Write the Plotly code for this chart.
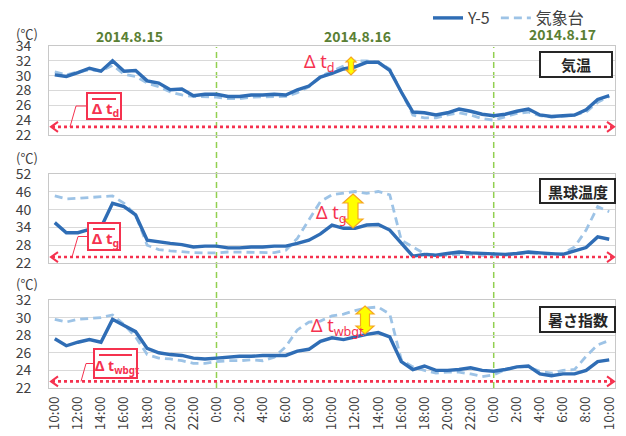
import plotly.graph_objects as go

W, H = 626, 436

# ---- data (hourly, 2014-08-15 10:00 -> 2014-08-17 10:00) ----
time_index = list(range(49))
tick_positions = list(range(0, 49, 2))
tick_labels = ["10:00", "12:00", "14:00", "16:00", "18:00", "20:00", "22:00", "0:00",
               "2:00", "4:00", "6:00", "8:00", "10:00", "12:00", "14:00", "16:00",
               "18:00", "20:00", "22:00", "0:00", "2:00", "4:00", "6:00", "8:00", "10:00"]

air_y5 = [30.1, 29.9, 30.4, 31.0, 30.6, 32.0, 30.6, 30.7, 29.3, 29.0, 28.1, 28.2, 27.3, 27.5,
          27.5, 27.2, 27.2, 27.4, 27.4, 27.5, 27.4, 28.1, 28.6, 29.8, 30.3, 30.9, 31.2, 31.8,
          31.8, 30.7, 27.8, 25.1, 25.0, 24.7, 25.0, 25.5, 25.2, 24.8, 24.6, 24.8, 25.2, 25.5,
          24.7, 24.5, 24.6, 24.7, 25.4, 26.8, 27.3]
air_jma = [30.5, 30.1, 30.5, 30.8, 30.6, 31.4, 30.2, 29.9, 29.0, 28.5, 27.8, 27.4, 27.2, 27.2,
           27.1, 26.9, 26.9, 27.1, 27.1, 27.2, 27.2, 27.7, 28.5, 29.9, 30.6, 31.2, 32.0, 32.0,
           31.8, 30.9, 27.8, 24.7, 24.3, 24.3, 24.7, 25.0, 24.7, 24.2, 24.0, 24.5, 24.9, 25.1,
           24.6, 24.4, 24.5, 24.7, 25.1, 26.4, 27.2]

globe_y5 = [35.6, 32.2, 32.2, 33.3, 34.0, 42.1, 41.0, 38.2, 29.7, 29.1, 28.6, 28.2, 27.4, 27.7,
            27.7, 27.1, 27.1, 27.4, 27.4, 27.7, 27.7, 28.6, 29.7, 31.8, 34.8, 33.7, 33.7, 34.8,
            35.0, 33.1, 28.6, 24.3, 24.9, 24.6, 25.2, 25.7, 25.4, 25.2, 24.9, 24.9, 25.2, 25.7,
            25.4, 25.2, 24.9, 26.1, 27.2, 30.8, 30.0]
globe_jma = [44.6, 43.6, 43.8, 44.1, 44.2, 44.6, 42.1, 38.2, 28.0, 26.5, 26.1, 25.7, 25.5, 25.4,
             25.4, 25.7, 25.7, 25.7, 25.5, 25.5, 26.3, 30.3, 36.5, 42.7, 45.0, 45.5, 46.1, 45.5,
             46.1, 45.0, 29.7, 27.4, 25.2, 24.6, 24.6, 24.9, 24.9, 24.6, 24.3, 24.6, 25.2, 25.4,
             25.2, 24.9, 25.2, 27.4, 33.1, 41.0, 39.3]

wbgt_y5 = [27.6, 26.8, 27.2, 27.5, 27.2, 29.8, 29.1, 28.4, 26.5, 26.0, 25.8, 25.7, 25.4, 25.3,
           25.4, 25.5, 25.6, 25.6, 25.7, 25.7, 25.7, 26.2, 26.4, 27.3, 27.7, 27.5, 27.8, 28.1,
           28.3, 27.8, 25.0, 24.1, 24.5, 24.0, 24.0, 24.1, 24.3, 24.0, 23.9, 24.1, 24.4, 24.5,
           23.6, 23.4, 23.6, 23.6, 24.0, 25.0, 25.2]
wbgt_jma = [29.8, 29.5, 29.8, 29.9, 30.0, 30.3, 29.2, 27.8, 25.8, 25.4, 25.3, 25.1, 24.8, 24.8,
            25.0, 25.1, 25.1, 25.2, 25.1, 25.5, 26.7, 28.6, 29.5, 29.6, 30.2, 30.4, 30.8, 31.1,
            31.2, 30.4, 25.2, 24.4, 24.0, 23.7, 23.8, 23.8, 23.6, 23.3, 23.5, 24.1, 24.4, 24.4,
            23.9, 23.7, 24.0, 24.1, 25.6, 26.9, 27.4]

panel_titles = ["気温", "黒球温度", "暑さ指数"]
delta_labels = ["Δ t<sub>d</sub>", "Δ t<sub>g</sub>", "Δ t<sub>wbgt</sub>"]
date_labels = ["2014.8.15", "2014.8.16", "2014.8.17"]
y_ranges = [(22, 34, 2), (22, 52, 6), (22, 32, 2)]
midnight_index = [14, 38]
baseline_y = [23.1, 24.0, 22.75]

# ---- styles ----
FONT = "Noto Sans CJK JP, Noto Sans, sans-serif"
LFONT = "Noto Sans, DejaVu Sans, sans-serif"
C_Y5 = "#2f6db5"
C_JMA = "#9dc3e6"
C_RED = "#f5324f"
C_GREEN = "#92d050"
C_DATE = "#5a7f34"
C_TXT = "#404040"


def X(px):
    return px / W


def Y(py):
    return 1 - py / H


panels_px = [(46, 135), (174, 263), (300, 388)]
x0p, x1p = 49, 615

fig = go.Figure()
series = [(air_y5, air_jma), (globe_y5, globe_jma), (wbgt_y5, wbgt_jma)]
for k, (y5, jma) in enumerate(series):
    ax = "" if k == 0 else str(k + 1)
    fig.add_trace(go.Scatter(x=time_index, y=jma, mode="lines", name="気象台",
                             line=dict(color=C_JMA, width=2.8, dash="8px,5px"),
                             xaxis="x" + ax, yaxis="y" + ax, showlegend=(k == 0),
                             legendrank=2, hoverinfo="skip"))
    fig.add_trace(go.Scatter(x=time_index, y=y5, mode="lines", name="Y-5",
                             line=dict(color=C_Y5, width=3.4),
                             xaxis="x" + ax, yaxis="y" + ax, showlegend=(k == 0),
                             legendrank=1, hoverinfo="skip"))

layout = dict(
    width=W, height=H, margin=dict(l=0, r=0, t=0, b=0, autoexpand=False),
    paper_bgcolor="white", plot_bgcolor="white",
    font=dict(family=FONT, color=C_TXT, size=14),
    hovermode=False,
    legend=dict(orientation="h", x=X(428), y=Y(1), xanchor="left", yanchor="top",
                font=dict(size=16, color=C_TXT), bgcolor="rgba(0,0,0,0)",
                itemwidth=30, tracegroupgap=0),
)
for k, (top, bot) in enumerate(panels_px):
    ax = "" if k == 0 else str(k + 1)
    lo, hi, dt = y_ranges[k]
    layout["xaxis" + ax] = dict(
        domain=[X(x0p), X(x1p)], range=[-0.5, 48.5], anchor="y" + ax, automargin=False,
        showgrid=False, zeroline=False, showline=True, mirror=True,
        linecolor="#c8c8c8", linewidth=1, fixedrange=True,
        tickvals=tick_positions, ticktext=tick_labels,
        showticklabels=(k == 2), tickangle=-90, ticks="",
        tickfont=dict(size=13.5, color=C_TXT), ticklabelstandoff=2,
    )
    layout["yaxis" + ax] = dict(
        domain=[Y(bot), Y(top)], range=[lo, hi], dtick=dt, tick0=lo, anchor="x" + ax,
        automargin=False, fixedrange=True,
        showgrid=True, gridcolor="#d9d9d9", gridwidth=1, zeroline=False,
        showline=True, mirror=True, linecolor="#c8c8c8", linewidth=1,
        ticks="", tickfont=dict(size=14, color=C_TXT), ticklabelstandoff=14,
    )
fig.update_layout(**layout)

shapes = []
annotations = []

# vertical midnight lines
for m in midnight_index:
    shapes.append(dict(type="line", xref="x3", yref="paper", x0=m, x1=m,
                       y0=Y(388), y1=Y(47), line=dict(color=C_GREEN, width=1.5, dash="6px,4px"),
                       layer="below"))


def ypx(k, val):
    top, bot = panels_px[k]
    lo, hi, _ = y_ranges[k]
    return bot - (val - lo) / (hi - lo) * (bot - top)


# red dotted baseline arrows
for k, yb in enumerate(baseline_y):
    ya = "y" if k == 0 else "y" + str(k + 1)
    shapes.append(dict(type="line", xref="paper", yref=ya, x0=X(52), x1=X(612), y0=yb, y1=yb,
                       line=dict(color=C_RED, width=2.6, dash="dot")))
    yc = ypx(k, yb)
    for xt, sgn in ((51, 1), (614, -1)):
        p = f"M {X(xt + sgn*7)} {Y(yc - 5)} L {X(xt)} {Y(yc)} L {X(xt + sgn*7)} {Y(yc + 5)}"
        shapes.append(dict(type="path", xref="paper", yref="paper", path=p,
                           line=dict(color=C_RED, width=2)))

# Δt boxes with connectors
boxes = [(87, 121, 93, 119, 76, 70), (88, 120, 223, 250, 78, 72), (94, 137, 349, 378, 86, 81)]
box_font = [15, 15, 14]
for k, (bx0, bx1, by0, by1, cxm, cxe) in enumerate(boxes):
    ymid = (by0 + by1) / 2
    yc = ypx(k, baseline_y[k])
    shapes.append(dict(type="path", xref="paper", yref="paper",
                       path=f"M {X(bx0)} {Y(ymid)} L {X(cxm)} {Y(ymid)} L {X(cxe)} {Y(yc)}",
                       line=dict(color=C_RED, width=1)))
    shapes.append(dict(type="rect", xref="paper", yref="paper", x0=X(bx0), x1=X(bx1),
                       y0=Y(by1), y1=Y(by0), fillcolor="white",
                       line=dict(color=C_RED, width=2)))
    shapes.append(dict(type="line", xref="paper", yref="paper", x0=X(bx0 + 5), x1=X(bx1 - 5),
                       y0=Y(by0 + 6), y1=Y(by0 + 6), line=dict(color=C_RED, width=2)))
    annotations.append(dict(xref="paper", yref="paper", x=X((bx0 + bx1) / 2 + 1), y=Y(ymid + 3),
                            text="<b>" + delta_labels[k] + "</b>", showarrow=False,
                            font=dict(size=box_font[k], color=C_RED, family=LFONT),
                            xanchor="center", yanchor="middle"))

# in-plot Δt labels and yellow arrows
inplot = [(319, 63), (331, 213), (337, 326)]
yarrows = [(351, 57, 75, 5, 2.5, 5), (353, 194, 228, 10, 5, 9), (365, 306, 334, 9, 4.5, 8)]
for k in range(3):
    lx, ly = inplot[k]
    annotations.append(dict(xref="paper", yref="paper", x=X(lx), y=Y(ly),
                            text=delta_labels[k], showarrow=False,
                            font=dict(size=18, color=C_RED, family=LFONT),
                            xanchor="center", yanchor="middle"))
    cx, y0, y1, h, w, L = yarrows[k]
    pts = [(cx, y0), (cx + h, y0 + L), (cx + w, y0 + L), (cx + w, y1 - L), (cx + h, y1 - L),
           (cx, y1), (cx - h, y1 - L), (cx - w, y1 - L), (cx - w, y0 + L), (cx - h, y0 + L)]
    path = "M " + " L ".join(f"{X(a)} {Y(b)}" for a, b in pts) + " Z"
    shapes.append(dict(type="path", xref="paper", yref="paper", path=path,
                       fillcolor="#ffff00", line=dict(color="#f5a623", width=1.2)))

# panel title boxes
tboxes = [(540, 612, 52, 77), (540, 615, 179, 203), (540, 615, 307, 332)]
for k, (bx0, bx1, by0, by1) in enumerate(tboxes):
    shapes.append(dict(type="rect", xref="paper", yref="paper", x0=X(bx0), x1=X(bx1),
                       y0=Y(by1), y1=Y(by0), fillcolor="white",
                       line=dict(color="#262626", width=2)))
    annotations.append(dict(xref="paper", yref="paper", x=X((bx0 + bx1) / 2), y=Y((by0 + by1) / 2),
                            text="<b>" + panel_titles[k] + "</b>", showarrow=False,
                            font=dict(size=15, color="#262626", family=FONT),
                            xanchor="center", yanchor="middle"))

# unit labels
for yy in (33, 158, 283):
    annotations.append(dict(xref="paper", yref="paper", x=X(27), y=Y(yy), text="(℃)",
                            showarrow=False, font=dict(size=13, color=C_TXT, family=FONT),
                            xanchor="center", yanchor="middle"))

# date labels
for (dx, dy), txt in zip([(129, 36), (357, 36), (562, 34)], date_labels):
    annotations.append(dict(xref="paper", yref="paper", x=X(dx), y=Y(dy), text="<b>" + txt + "</b>",
                            showarrow=False, font=dict(size=14, color=C_DATE, family=FONT),
                            xanchor="center", yanchor="middle"))

fig.update_layout(shapes=shapes, annotations=annotations)
fig.write_html("out.html", config={"displayModeBar": False, "staticPlot": True},
               post_script="document.body.style.margin='0px';document.body.style.overflow='hidden';")
